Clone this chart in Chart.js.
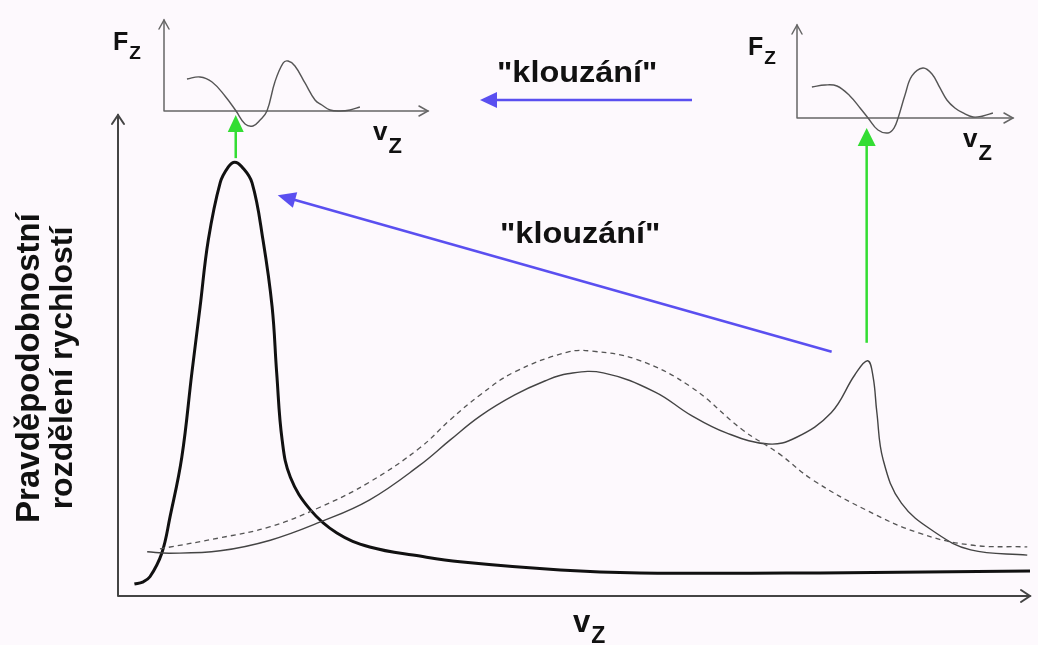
<!DOCTYPE html>
<html lang="cs">
<head>
<meta charset="utf-8">
<title>Rozdělení rychlostí – klouzání</title>
<script src="https://cdn.jsdelivr.net/npm/chart.js@4.4.1/dist/chart.umd.min.js"></script>
<style>
  html, body { margin: 0; padding: 0; background: #fdf9fd; }
  #wrap { position: relative; width: 1038px; height: 645px; overflow: hidden; }
  canvas { position: absolute; }
  #main { left: 0; top: 0; }
  #inset1 { left: 100px; top: 0; }
  #inset2 { left: 700px; top: 0; }
</style>
</head>
<body>
<div id="wrap">
  <canvas id="main" width="1038" height="645"></canvas>
  <canvas id="inset1" width="350" height="170"></canvas>
  <canvas id="inset2" width="338" height="180"></canvas>
</div>
<script>
// ---- main plot: velocity distribution (v_z on x, probability density on y) ----
const narrowX = [1.8, 2.7, 3.5, 4.8, 5.7, 7.0, 8.1, 9.0, 9.9, 11.2, 12.1, 12.8, 13.6, 14.7, 15.9, 16.9, 17.4, 18.0, 18.9, 21.1, 24.0, 27.6, 33.1, 37.5, 48.5, 57.2, 77.0, 100];
const narrowY = [2.5, 2.9, 4.0, 8.9, 16.4, 28.9, 46.4, 60.1, 74.0, 85.9, 89.2, 90.2, 89.2, 85.9, 74.0, 60.1, 46.4, 32.4, 24.7, 17.9, 13.1, 10.2, 8.3, 7.1, 5.4, 4.8, 4.8, 5.2];

const beamX = [3.2, 5.7, 11.2, 16.7, 22.2, 27.6, 33.1, 36.4, 39.7, 43.5, 46.8, 49.3, 53.2, 58.9, 62.8, 66.7, 71.3, 74.3, 78.2, 80.8, 82.2, 82.8, 83.2, 83.9, 85.9, 89.7, 93.5, 99.7];
const beamY = [9.2, 8.9, 9.4, 11.6, 15.4, 20.0, 27.2, 32.4, 37.4, 41.8, 44.7, 46.2, 46.4, 42.4, 37.6, 33.9, 31.6, 32.9, 38.1, 46.0, 48.9, 45.5, 38.3, 28.3, 19.3, 13.1, 9.6, 8.5];

const thermalX = [4.6, 11.2, 16.7, 22.2, 27.6, 33.1, 36.4, 39.7, 43.5, 49.3, 52.0, 57.0, 62.8, 68.5, 72.4, 76.2, 82.0, 87.8, 93.5, 99.7];
const thermalY = [9.8, 12.1, 14.4, 18.5, 23.7, 30.8, 36.6, 41.8, 46.6, 50.7, 50.9, 49.1, 43.5, 34.5, 29.7, 24.1, 17.9, 13.1, 10.6, 10.2];

// ---- force curves F_z(v_z) shown above the main plot ----
const force1X = [8.7, 13.6, 18.2, 23.1, 27.3, 30.7, 33.7, 36.4, 39.0, 42.0, 45.1, 47.0, 49.6, 53.4, 57.2, 59.8, 62.9, 66.7, 70.5, 74.2];
const force1Y = [35.2, 37.4, 31.9, 16.5, 0, -14.3, -16.5, -9.9, 0, 31.9, 52.7, 54.9, 49.5, 30.8, 12.1, 6.6, 1.1, 0, 1.1, 4.4];

const force2X = [6.9, 13.0, 18.5, 24.5, 29.2, 32.9, 37.5, 42.1, 44.9, 46.8, 50.0, 53.2, 58.3, 62.5, 66.2, 69.4, 73.1, 76.9, 81.5, 86.1, 90.7];
const force2Y = [33.3, 35.5, 34.4, 23.7, 10.8, 0, -12.9, -16.1, -10.8, 0, 24.7, 45.2, 53.8, 47.3, 32.3, 19.4, 10.8, 5.4, 1.1, 2.2, 5.4];

// ---- texts ----
const yLabelLines = ['Pravděpodobnostní', 'rozdělení rychlostí'];
const slideLabel = '"klouzání"';
const axisVar = 'v';
const forceVar = 'F';
const subscript = 'Z';

const FONT = '"Liberation Sans", Arial, Helvetica, sans-serif';
const BLUE = '#5a4ff0';
const GREEN = '#33dd33';

const toPoints = (xs, ys) => xs.map((x, i) => ({ x, y: ys[i] }));

function openArrowHead(ctx, x, y, angle, len, half) {
  ctx.save();
  ctx.translate(x, y);
  ctx.rotate(angle);
  ctx.beginPath();
  ctx.moveTo(-len, -half);
  ctx.lineTo(0, 0);
  ctx.lineTo(-len, half);
  ctx.stroke();
  ctx.restore();
}

function filledArrow(ctx, x0, y0, x1, y1, color, width, len, half) {
  const a = Math.atan2(y1 - y0, x1 - x0);
  ctx.save();
  ctx.strokeStyle = color;
  ctx.fillStyle = color;
  ctx.lineWidth = width;
  ctx.beginPath();
  ctx.moveTo(x0, y0);
  ctx.lineTo(x1 - Math.cos(a) * len * 0.8, y1 - Math.sin(a) * len * 0.8);
  ctx.stroke();
  ctx.translate(x1, y1);
  ctx.rotate(a);
  ctx.beginPath();
  ctx.moveTo(0, 0);
  ctx.lineTo(-len, -half);
  ctx.lineTo(-len, half);
  ctx.closePath();
  ctx.fill();
  ctx.restore();
}

function subLabel(ctx, main, sub, x, y, mainSize, subSize, dy) {
  ctx.save();
  ctx.fillStyle = '#111';
  ctx.textBaseline = 'alphabetic';
  ctx.textAlign = 'left';
  ctx.font = 'bold ' + mainSize + 'px ' + FONT;
  ctx.fillText(main, x, y);
  const w = ctx.measureText(main).width;
  ctx.font = 'bold ' + subSize + 'px ' + FONT;
  ctx.fillText(sub, x + w + 1, y + dy);
  ctx.restore();
}

// axes with open arrowheads, crossing at value 0
const arrowAxes = {
  id: 'arrowAxes',
  beforeDatasetsDraw(chart, args, opts) {
    const { ctx, chartArea, scales } = chart;
    const x0 = scales.x.getPixelForValue(0);
    const y0 = scales.y.getPixelForValue(0);
    ctx.save();
    ctx.strokeStyle = opts.color;
    ctx.lineWidth = opts.width;
    ctx.lineCap = 'round';
    ctx.beginPath();
    ctx.moveTo(x0, y0);
    ctx.lineTo(x0, chartArea.top);
    ctx.moveTo(x0, y0);
    ctx.lineTo(chartArea.right, y0);
    ctx.stroke();
    openArrowHead(ctx, x0, chartArea.top, -Math.PI / 2, opts.head, opts.half);
    openArrowHead(ctx, chartArea.right, y0, 0, opts.head, opts.half);
    ctx.restore();
  }
};

// annotations of the main plot: labels, "klouzání" arrows, resonance markers
const mainNotes = {
  id: 'mainNotes',
  afterDatasetsDraw(chart) {
    const { ctx, scales } = chart;
    const xs = scales.x, ys = scales.y;
    const iN = narrowY.indexOf(Math.max(...narrowY));
    const iB = beamX.indexOf(82.2);
    const pN = { x: xs.getPixelForValue(narrowX[iN]), y: ys.getPixelForValue(narrowY[iN]) };
    const pB = { x: xs.getPixelForValue(beamX[iB]), y: ys.getPixelForValue(beamY[iB]) };

    // y-axis title, two rotated lines
    ctx.save();
    ctx.fillStyle = '#111';
    ctx.textAlign = 'center';
    ctx.textBaseline = 'middle';
    ctx.translate(30, 368);
    ctx.rotate(-Math.PI / 2);
    ctx.font = 'bold 33px ' + FONT;
    ctx.fillText(yLabelLines[0], 0, 0);
    ctx.font = 'bold 32px ' + FONT;
    ctx.fillText(yLabelLines[1], 0, 33);
    ctx.restore();

    // x-axis title
    subLabel(ctx, axisVar, subscript, 573, 632, 31, 23, 11);

    // green markers from the peaks up to the zero crossing of the force curve
    filledArrow(ctx, pN.x + 1, pN.y - 4, pN.x + 1, 115, GREEN, 2.5, 17, 8);
    filledArrow(ctx, pB.x - 1, pB.y - 18, pB.x - 1, 128, GREEN, 2.5, 18, 9);

    // "klouzání" arrows
    filledArrow(ctx, 692, 100, 480, 100, BLUE, 2.5, 17, 8);
    filledArrow(ctx, pB.x - 36, pB.y - 9, pN.x + 43, pN.y + 33, BLUE, 2.5, 18, 8);

    ctx.save();
    ctx.fillStyle = '#111';
    ctx.textBaseline = 'alphabetic';
    ctx.textAlign = 'left';
    ctx.font = 'bold 30px ' + FONT;
    ctx.save();
    ctx.translate(497, 82);
    ctx.scale(1.08, 1);
    ctx.fillText(slideLabel, 0, 0);
    ctx.restore();
    ctx.translate(500, 243);
    ctx.scale(1.08, 1);
    ctx.fillText(slideLabel, 0, 0);
    ctx.restore();
  }
};

const baseOptions = (pad, yMin, yMax, axisOpts) => ({
  responsive: false,
  animation: false,
  events: [],
  layout: { padding: pad },
  scales: {
    x: { type: 'linear', min: 0, max: 100, display: false },
    y: { type: 'linear', min: yMin, max: yMax, display: false }
  },
  elements: { point: { radius: 0 }, line: { tension: 0.4 } },
  plugins: { legend: { display: false }, tooltip: { enabled: false }, arrowAxes: axisOpts }
});

new Chart(document.getElementById('main'), {
  type: 'line',
  data: {
    datasets: [
      { label: 'thermal', data: toPoints(thermalX, thermalY), borderColor: '#555', borderWidth: 1.3, borderDash: [5, 4], clip: false },
      { label: 'beam', data: toPoints(beamX, beamY), borderColor: '#444', borderWidth: 1.4, clip: false },
      { label: 'narrow', data: toPoints(narrowX, narrowY), borderColor: '#111', borderWidth: 3, clip: false }
    ]
  },
  options: baseOptions({ left: 118, right: 8, top: 115, bottom: 49 }, 0, 100,
    { color: '#444', width: 2, head: 9, half: 6 }),
  plugins: [arrowAxes, mainNotes]
});

function insetLabels(offF, offV) {
  return {
    id: 'insetLabels',
    afterDatasetsDraw(chart) {
      const { ctx, chartArea, scales } = chart;
      const x0 = scales.x.getPixelForValue(0);
      const y0 = scales.y.getPixelForValue(0);
      subLabel(ctx, forceVar, subscript, x0 - offF, chartArea.top + 30, 25, 19, 9);
      subLabel(ctx, axisVar, subscript, chartArea.right - offV, y0 + 29, 26, 22, 13);
    }
  };
}

function makeInset(id, xs, ys, pad, offF, offV) {
  new Chart(document.getElementById(id), {
    type: 'line',
    data: { datasets: [{ data: toPoints(xs, ys), borderColor: '#555', borderWidth: 1.4, clip: false }] },
    options: baseOptions(pad, -25, 100, { color: '#666', width: 1.5, head: 9, half: 5 }),
    plugins: [arrowAxes, insetLabels(offF, offV)]
  });
}

makeInset('inset1', force1X, force1Y, { left: 64, right: 22, top: 20, bottom: 36.25 }, 51, 55);
makeInset('inset2', force2X, force2Y, { left: 97, right: 25, top: 25, bottom: 38.75 }, 49, 50);
</script>
</body>
</html>
